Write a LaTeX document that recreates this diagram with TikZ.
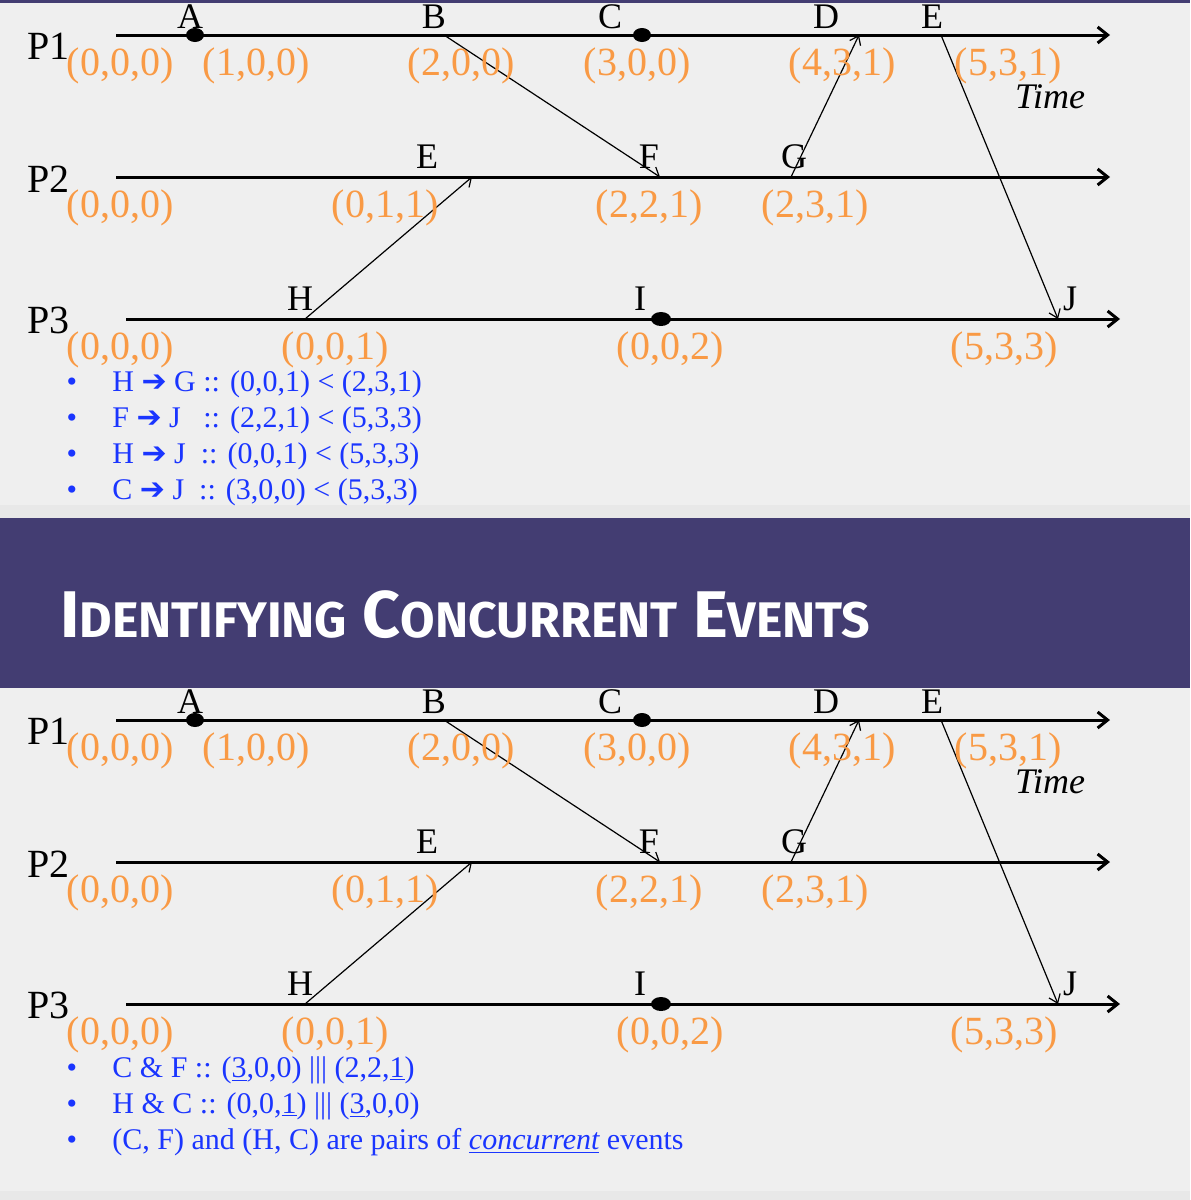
\documentclass[tikz,border=0pt]{standalone}
\usepackage{fontspec}
\setmainfont{Liberation Serif}
\newfontfamily\titlefont{Fira Sans}
\newfontfamily\arrowfont{DejaVu Sans}
\usetikzlibrary{arrows.meta,positioning}

\definecolor{slidebg}{HTML}{EFEFEF}
\definecolor{gapgray}{HTML}{E8E8E8}
\definecolor{titlebar}{HTML}{433D72}
\definecolor{stamp}{HTML}{F99A45}
\definecolor{noteblue}{HTML}{1A35FF}

\newcommand{\smallcap}[1]{{\fontsize{25}{25}\selectfont #1}}
\newcommand{\hb}{{\arrowfont\bfseries ➔}}

\tikzset{
  proc/.style={line width=1.5pt,-{Straight Barb[length=5pt,width=8pt]}},
  msg/.style={line width=0.6pt,-{Straight Barb[length=4pt,width=6pt]}},
  evt/.style={font=\fontsize{18}{18}\selectfont,anchor=base,inner sep=0pt},
  pname/.style={font=\fontsize{20}{20}\selectfont,anchor=base west,inner sep=0pt},
  vclock/.style={text=stamp,font=\fontsize{20}{20}\selectfont,anchor=base,inner sep=0pt},
  note/.style={text=noteblue,font=\fontsize{15}{15}\selectfont,anchor=base west,inner sep=0pt},
  bul/.style={text=noteblue,font=\fontsize{15}{15}\selectfont,anchor=base,inner sep=0pt},
}

\begin{document}
\begin{tikzpicture}[x=0.5pt,y=-0.5pt]
\useasboundingbox (0,0) rectangle (1190,1200);
% slide backgrounds
\fill[slidebg] (0,0) rectangle (1190,1200);
\fill[titlebar] (0,0) rectangle (1190,3);
\fill[gapgray] (0,505) rectangle (1190,518);
\fill[titlebar] (0,518) rectangle (1190,688);
\fill[gapgray] (0,1191) rectangle (1190,1200);
\node[font=\titlefont\bfseries\fontsize{33}{33}\selectfont,text=white,anchor=base west,inner sep=0pt]
  (title) at (60,637) {I\smallcap{DENTIFYING} C\smallcap{ONCURRENT} E\smallcap{VENTS}};

\foreach \k/\dy in {u/0,l/685}{
\begin{scope}[shift={(0,\dy)}]
  % process lines
  \coordinate (\k-p1s) at (116,35);  \coordinate (\k-p1e) at (1110,35);
  \coordinate (\k-p2s) at (116,177); \coordinate (\k-p2e) at (1110,177);
  \coordinate (\k-p3s) at (126,319); \coordinate (\k-p3e) at (1120,319);
  \draw[proc] (\k-p1s) -- (\k-p1e);
  \draw[proc] (\k-p2s) -- (\k-p2e);
  \draw[proc] (\k-p3s) -- (\k-p3e);
  \node[pname] (\k-P1) at (27,59) {P1};
  \node[pname] (\k-P2) at (27,192) {P2};
  \node[pname] (\k-P3) at (27,333) {P3};
  % events
  \coordinate (\k-A) at (195,35);
  \coordinate (\k-B) at (444,35);
  \coordinate (\k-C) at (642,35);
  \coordinate (\k-D) at (859,35);
  \coordinate (\k-E) at (941,35);
  \coordinate (\k-E2) at (472,177);
  \coordinate (\k-F) at (660,177);
  \coordinate (\k-G) at (791,177);
  \coordinate (\k-H) at (305,319);
  \coordinate (\k-I) at (661,319);
  \coordinate (\k-J) at (1058,319);
  \fill (\k-A) ellipse [x radius=9,y radius=7];
  \fill (\k-C) ellipse [x radius=9,y radius=7];
  \fill (\k-I) ellipse [x radius=10,y radius=7];
  \node[evt] (\k-lA) at (190,28) {A};
  \node[evt] (\k-lB) at (434,28) {B};
  \node[evt] (\k-lC) at (610,28) {C};
  \node[evt] (\k-lD) at (826,28) {D};
  \node[evt] (\k-lE) at (932,28) {E};
  \node[evt] (\k-lE2) at (427,168) {E};
  \node[evt] (\k-lF) at (649,168) {F};
  \node[evt] (\k-lG) at (794,168) {G};
  \node[evt] (\k-lH) at (300,310) {H};
  \node[evt] (\k-lI) at (640,310) {I};
  \node[evt] (\k-lJ) at (1070,310) {J};
  % messages
  \draw[msg] (\k-B) -- (\k-F);
  \draw[msg] (\k-H) -- (\k-E2);
  \draw[msg] (\k-G) -- (\k-D);
  \draw[msg] (\k-E) -- (\k-J);
  % vector clocks
  \node[vclock] (\k-vA0) at (120,75) {(0,0,0)};
  \node[vclock] (\k-vA) at (256,75) {(1,0,0)};
  \node[vclock] (\k-vB) at (461,75) {(2,0,0)};
  \node[vclock] (\k-vC) at (637,75) {(3,0,0)};
  \node[vclock] (\k-vD) at (842,75) {(4,3,1)};
  \node[vclock] (\k-vE) at (1008,75) {(5,3,1)};
  \node[vclock] (\k-vP2) at (120,217) {(0,0,0)};
  \node[vclock] (\k-vE2) at (385,217) {(0,1,1)};
  \node[vclock] (\k-vF) at (649,217) {(2,2,1)};
  \node[vclock] (\k-vG) at (815,217) {(2,3,1)};
  \node[vclock] (\k-vP3) at (120,359) {(0,0,0)};
  \node[vclock] (\k-vH) at (335,359) {(0,0,1)};
  \node[vclock] (\k-vI) at (670,359) {(0,0,2)};
  \node[vclock] (\k-vJ) at (1004,359) {(5,3,3)};
  \node[evt,font=\fontsize{18}{18}\selectfont\itshape] (\k-time) at (1050,108) {Time};
\end{scope}
}

% happened-before notes
\node[bul] (b1) at (72,391) {•};
\node[note] (n1) at (112,391) {H \hb{} G :: (0,0,1) < (2,3,1)};
\node[bul] (b2) at (72,427) {•};
\node[note] (n2) at (112,427) {F \hb{} J \ \ :: (2,2,1) < (5,3,3)};
\node[bul] (b3) at (72,463) {•};
\node[note] (n3) at (112,463) {H \hb{} J \ :: (0,0,1) < (5,3,3)};
\node[bul] (b4) at (72,499) {•};
\node[note] (n4) at (112,499) {C \hb{} J \ :: (3,0,0) < (5,3,3)};

% concurrency notes
\node[bul] (c1) at (72,1077) {•};
\node[note] (m1) at (112,1077) {C \& F :: (\underline{3},0,0) ||| (2,2,\underline{1})};
\node[bul] (c2) at (72,1113) {•};
\node[note] (m2) at (112,1113) {H \& C :: (0,0,\underline{1}) ||| (\underline{3},0,0)};
\node[bul] (c3) at (72,1149) {•};
\node[note] (m3) at (112,1149) {(C, F) and (H, C) are pairs of \underline{\itshape concurrent} events};
\end{tikzpicture}
\end{document}
